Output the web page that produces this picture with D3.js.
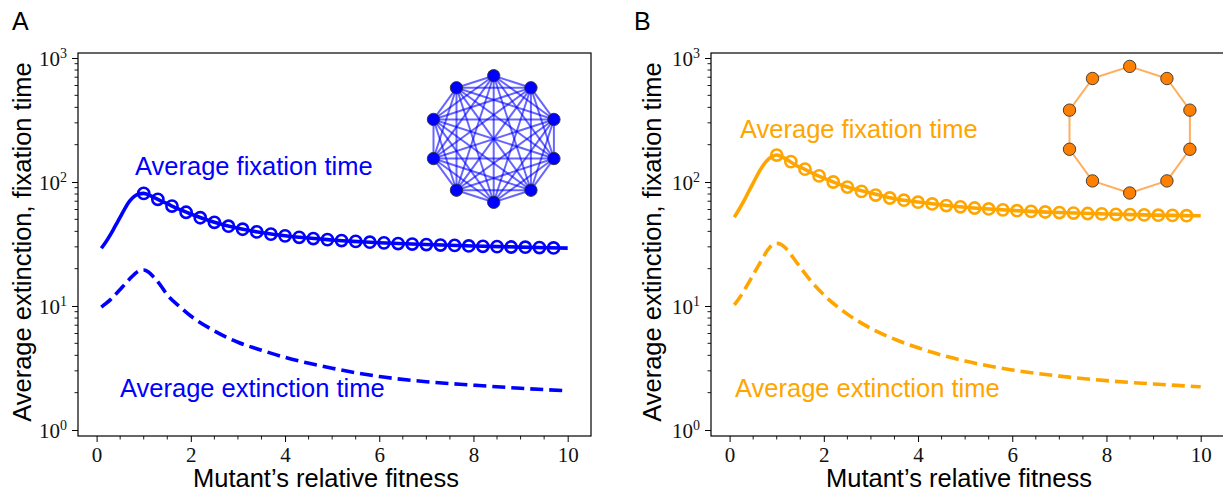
<!DOCTYPE html>
<html>
<head>
<meta charset="utf-8">
<script src="https://cdn.jsdelivr.net/npm/d3@7"></script>
<style>
  body { margin: 0; background: white; }
  svg { display: block; }
</style>
</head>
<body>
<div id="chart"></div>
<script>
// values, by eye
var panelNames = ["A", "B"];
var seriesColors = ["#0000ff", "#ffa500"];
var xTickValues = [0, 2, 4, 6, 8, 10];
var yTickExps = [0, 1, 2, 3];

// theory curve for the fixation time (solid)
var fixLineX = [0.1, 0.2, 0.3, 0.4, 0.5, 0.6, 0.7, 0.8, 0.9, 1.0, 1.2, 1.4, 1.6, 1.8, 2.0, 2.5, 3, 3.5, 4, 5, 6, 7, 8, 9, 10];
var fixLineA = [29.2, 33, 38, 44.5, 52, 61, 70, 76.5, 80, 81, 75.5, 69.5, 64, 59.3, 55.2, 47.3, 42.3, 39.1, 36.8, 34.1, 32.4, 31.3, 30.45, 29.85, 29.3];
var fixLineB = [52, 60, 70, 83, 98, 116, 134, 150, 160, 165, 153, 137, 126.5, 116, 107.5, 91, 81.5, 73.3, 69, 62.6, 59, 56.7, 55.2, 54.1, 53.4];

// simulation points (open circles)
var markX = [1.0, 1.3, 1.6, 1.9, 2.2, 2.5, 2.8, 3.1, 3.4, 3.7, 4.0, 4.3, 4.6, 4.9, 5.2, 5.5, 5.8, 6.1, 6.4, 6.7, 7.0, 7.3, 7.6, 7.9, 8.2, 8.5, 8.8, 9.1, 9.4, 9.7];
var markA = [81, 72.5, 64, 57, 51.5, 47.3, 44, 41.6, 39.6, 38, 36.8, 35.8, 35, 34.3, 33.7, 33.2, 32.7, 32.3, 31.9, 31.6, 31.3, 31.0, 30.8, 30.5, 30.3, 30.1, 29.9, 29.8, 29.6, 29.4];
var markB = [165, 146, 127, 112, 100, 91, 84, 78.5, 74.3, 71.3, 68.7, 66.5, 64.6, 63.1, 61.7, 60.6, 59.6, 58.7, 58.0, 57.3, 56.7, 56.2, 55.7, 55.3, 54.9, 54.6, 54.3, 54.0, 53.8, 53.5];

// extinction time (dashed)
var extX = [0.1, 0.2, 0.3, 0.4, 0.5, 0.6, 0.7, 0.8, 0.9, 1.0, 1.1, 1.2, 1.35, 1.5, 1.75, 2, 2.5, 3, 3.5, 4, 5, 6, 7, 8, 9, 10];
var extA = [9.8, 10.5, 11.3, 12.4, 13.6, 15, 16.5, 18, 19.2, 19.5, 18.8, 17.3, 14.8, 12.3, 10, 8.3, 6.3, 5.1, 4.4, 3.85, 3.15, 2.7, 2.45, 2.3, 2.17, 2.07];
var extB = [10.2, 11.5, 13.2, 15.3, 17.8, 20.8, 24.2, 28, 31, 32, 31.3, 29, 24.5, 20.5, 15.5, 12.3, 8.6, 6.6, 5.4, 4.6, 3.6, 3.05, 2.72, 2.5, 2.35, 2.23];

// the inset graphs: complete graph (A) and ring (B), 10 nodes each
var graphNodes = 10;
var graphKinds = ["complete", "ring"];

var labelFix = "Average fixation time";
var labelExt = "Average extinction time";
var xTitle = "Mutant\u2019s relative fitness";
var yTitle = "Average extinction, fixation time";

(function() {
var W = 1223, H = 496;
var sans = "'Liberation Sans', Arial, sans-serif";
var serif = "'Liberation Serif', 'Times New Roman', serif";

var svg = d3.select("#chart").append("svg")
  .attr("width", W).attr("height", H);

// per-panel layout (pixels)
var panels = [
  { left: 78, right: 591, letterX: 12, yTitleX: 31, xTitleX: 326,
    fixText: [135, 175], extText: [120, 397], inset: [493.7, 139],
    fixLine: fixLineA, marks: markA, ext: extA },
  { left: 711, right: 1224, letterX: 634, yTitleX: 661, xTitleX: 959,
    fixText: [740, 138], extText: [735, 397], inset: [1129.7, 129.7],
    fixLine: fixLineB, marks: markB, ext: extB }
];
var plotTop = 53, plotBottom = 436;

panels.forEach(function(p, i) {
  var col = seriesColors[i];
  var g = svg.append("g");

  var x = d3.scaleLinear().domain([-0.395, 10.495]).range([p.left, p.right]);
  var y = d3.scaleLog().domain([0.8945, 1097.4]).range([plotBottom, plotTop]);

  // ---- axes: ticks outward, minor ticks too
  var xAxis = d3.axisBottom(x).tickValues(xTickValues).tickSize(6).tickPadding(5)
    .tickFormat(d3.format("d"));
  var gx = g.append("g").attr("transform", "translate(0," + plotBottom + ")").call(xAxis);
  gx.select(".domain").remove();
  gx.selectAll("text").style("font-family", serif).style("font-size", "21px").attr("fill", "#111")
    .attr("dy", "0.7em");
  gx.selectAll("line").attr("stroke-width", 1);

  var xMinor = d3.range(0, 10.01, 0.5).filter(function(v) { return v % 2 !== 0; });
  g.append("g").selectAll("line").data(xMinor).join("line")
    .attr("x1", function(d) { return x(d); }).attr("x2", function(d) { return x(d); })
    .attr("y1", plotBottom).attr("y2", plotBottom + 3.5)
    .attr("stroke", "black").attr("stroke-width", 0.9);

  var yAxis = d3.axisLeft(y).tickValues(yTickExps.map(function(e) { return Math.pow(10, e); }))
    .tickSize(6).tickFormat("");
  var gy = g.append("g").attr("transform", "translate(" + p.left + ",0)").call(yAxis);
  gy.select(".domain").remove();
  gy.selectAll("line").attr("stroke-width", 1);

  var yMinor = [];
  [0, 1, 2].forEach(function(e) {
    for (var k = 2; k <= 9; k++) yMinor.push(k * Math.pow(10, e));
  });
  g.append("g").selectAll("line").data(yMinor).join("line")
    .attr("x1", p.left).attr("x2", p.left - 3.5)
    .attr("y1", function(d) { return y(d); }).attr("y2", function(d) { return y(d); })
    .attr("stroke", "black").attr("stroke-width", 0.9);

  // 10^k labels
  var ylab = g.append("g").selectAll("text").data(yTickExps).join("text")
    .attr("x", p.left - 11).attr("y", function(e) { return y(Math.pow(10, e)) + 8; })
    .attr("text-anchor", "end").style("font-family", serif).attr("fill", "#111");
  ylab.append("tspan").style("font-size", "21px").text("10");
  ylab.append("tspan").style("font-size", "14px").attr("dy", -8).text(function(e) { return e; });

  // frame
  g.append("rect").attr("x", p.left).attr("y", plotTop)
    .attr("width", p.right - p.left).attr("height", plotBottom - plotTop)
    .attr("fill", "none").attr("stroke", "black").attr("stroke-width", 1.2);

  // ---- data
  var line = d3.line()
    .x(function(d) { return x(d[0]); })
    .y(function(d) { return y(d[1]); })
    .curve(d3.curveMonotoneX);

  g.append("path").datum(d3.zip(extX, p.ext)).attr("d", line)
    .attr("fill", "none").attr("stroke", col).attr("stroke-width", 3.6)
    .attr("stroke-dasharray", "13,6");

  g.append("path").datum(d3.zip(fixLineX, p.fixLine)).attr("d", line)
    .attr("fill", "none").attr("stroke", col).attr("stroke-width", 3.6);

  g.append("g").selectAll("circle").data(d3.zip(markX, p.marks)).join("circle")
    .attr("cx", function(d) { return x(d[0]); }).attr("cy", function(d) { return y(d[1]); })
    .attr("r", 5.6).attr("fill", "none").attr("stroke", col).attr("stroke-width", 2.6);

  // ---- inset network
  var R = 63.3;
  var ang = d3.scaleLinear().domain([0, graphNodes]).range([-Math.PI / 2, 1.5 * Math.PI]);
  var nodes = d3.range(graphNodes).map(function(k) {
    return { x: p.inset[0] + R * Math.cos(ang(k)), y: p.inset[1] + R * Math.sin(ang(k)) };
  });
  var edges = [];
  if (graphKinds[i] === "complete") {
    for (var a = 0; a < graphNodes; a++)
      for (var b = a + 1; b < graphNodes; b++) edges.push([nodes[a], nodes[b]]);
  } else {
    for (var a2 = 0; a2 < graphNodes; a2++) edges.push([nodes[a2], nodes[(a2 + 1) % graphNodes]]);
  }
  var edgeCol = i === 0 ? "#0000ff" : "#ff8c1a";
  var nodeCol = i === 0 ? "#0000ff" : "#ff8000";
  g.append("g").selectAll("line").data(edges).join("line")
    .attr("x1", function(d) { return d[0].x; }).attr("y1", function(d) { return d[0].y; })
    .attr("x2", function(d) { return d[1].x; }).attr("y2", function(d) { return d[1].y; })
    .attr("stroke", edgeCol).attr("stroke-opacity", i === 0 ? 0.6 : 0.7).attr("stroke-width", 2);
  g.append("g").selectAll("circle").data(nodes).join("circle")
    .attr("cx", function(d) { return d.x; }).attr("cy", function(d) { return d.y; })
    .attr("r", 6.2).attr("fill", nodeCol).attr("stroke", "#333").attr("stroke-width", 0.9);

  // ---- texts
  g.append("text").attr("x", p.fixText[0]).attr("y", p.fixText[1])
    .style("font-family", sans).style("font-size", "25.5px").attr("fill", col).text(labelFix);
  g.append("text").attr("x", p.extText[0]).attr("y", p.extText[1])
    .style("font-family", sans).style("font-size", "25.5px").attr("fill", col).text(labelExt);

  g.append("text").attr("x", p.xTitleX).attr("y", 487).attr("text-anchor", "middle")
    .style("font-family", sans).style("font-size", "25.5px").attr("fill", "black").text(xTitle);
  g.append("text").attr("transform", "translate(" + p.yTitleX + ",242) rotate(-90)")
    .attr("text-anchor", "middle")
    .style("font-family", sans).style("font-size", "25.5px").attr("fill", "black").text(yTitle);

  g.append("text").attr("x", p.letterX).attr("y", 30)
    .style("font-family", sans).style("font-size", "25px").attr("fill", "black").text(panelNames[i]);
});
})();
</script>
</body>
</html>
